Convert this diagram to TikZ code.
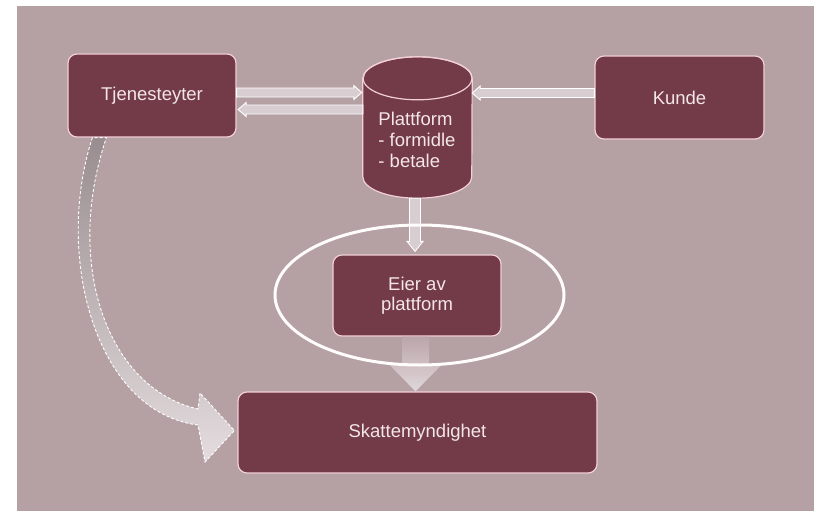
\documentclass[tikz,border=0pt]{standalone}
\usepackage{fontspec}
\setmainfont{Liberation Sans}
\usetikzlibrary{calc}
\definecolor{bg}{HTML}{B5A0A4}
\definecolor{boxc}{HTML}{733A48}
\definecolor{edge}{HTML}{F2D0D8}
\definecolor{txt}{HTML}{F3E6E9}
\definecolor{arrfill}{HTML}{D8CDD0}
\newcommand\barrow[6]{%
  \coordinate (bA) at (#1);
  \coordinate (bB) at (#2);
  \coordinate (bH) at ($(bB)!#5!(bA)$);
  \path[#6] ($(bA)!#3!90:(bB)$) -- ($(bH)!#3!90:(bB)$) -- ($(bH)!#4!90:(bB)$) -- (bB)
    -- ($(bH)!#4!-90:(bB)$) -- ($(bH)!#3!-90:(bB)$) -- ($(bA)!#3!-90:(bB)$) -- cycle;
}
\begin{document}
\begin{tikzpicture}[x=1pt,y=-1pt,
  box/.style={draw=edge, line width=1.2pt, fill=boxc, rounded corners=9pt, text=txt,
    font=\fontsize{18.5}{20}\selectfont, align=center, inner sep=0pt},
  thinarr/.style={fill=arrfill, draw=white, line width=0.9pt, line join=miter},
  bigarr/.style={top color=#1, bottom color=arrfill!80!white, draw=none},
  curvearr/.style={top color=bg!70!black!80!white, middle color=bg!60!white, bottom color=arrfill!70!white,
    draw=white, line width=0.9pt, dash pattern=on 3pt off 2pt},
]
\useasboundingbox (0,0) rectangle (814,511);
\fill[bg] (17,6) rectangle (814,511);

% boxes
\node[box, minimum width=168pt, minimum height=83pt] (tj) at (152,95.5) {Tjenesteyter};
\node[box, minimum width=169pt, minimum height=83pt] (ku) at (679.5,97.5) {Kunde};
\node[box, minimum width=168pt, minimum height=81pt] (ei) at (417,295.5) {Eier av\\plattform};
\node[box, minimum width=359pt, minimum height=81pt] (sk) at (417.5,432.5) {Skattemyndighet};

% cylinder
\node[minimum width=109pt, minimum height=141pt, inner sep=0pt] (plat) at (417.5,127.5) {};
\filldraw[draw=edge, line width=1.2pt, fill=boxc]
  ($(plat.north west)+(0,21.5)$) -- ($(plat.south west)+(0,-21.5)$)
  arc[start angle=180, end angle=0, x radius=54.5, y radius=21.5]
  -- ($(plat.north east)+(0,21.5)$)
  arc[start angle=0, end angle=-180, x radius=54.5, y radius=21.5] -- cycle;
\draw[edge, line width=1.2pt] ($(plat.north)+(0,21.5)$) ellipse[x radius=54.5, y radius=21.5];
\node[text=txt, font=\fontsize{18.5}{21}\selectfont, align=left, inner sep=0pt, anchor=center]
  (plattxt) at ($(plat.center)+(-0.5,12)$) {Plattform\\- formidle\\- betale};

% thin arrows
\coordinate (a1s) at ($(tj.east)+(0,-3)$);
\coordinate (a1e) at ($(a1s -| plat.west)+(-1,0)$);
\barrow{a1s}{a1e}{4.5pt}{7pt}{8pt}{thinarr}
\coordinate (a2s) at ($(tj.east)+(0,14)$);
\coordinate (a2e) at ($(a2s -| plat.west)$);
\barrow{a2e}{$(a2s)+(1.5,0)$}{4.5pt}{7pt}{8pt}{thinarr}
\coordinate (a3s) at ($(ku.west)+(0,-4.5)$);
\coordinate (a3e) at ($(a3s -| plat.east)$);
\barrow{a3s}{a3e}{4.5pt}{7pt}{8pt}{thinarr}
\coordinate (a4s) at ($(plat.south)+(-2.5,0)$);
\coordinate (a4e) at ($(a4s |- ei.north)+(0,-3)$);
\barrow{a4s}{a4e}{5.5pt}{8pt}{10pt}{thinarr}

% big arrow eier -> skatt
\coordinate (b1s) at ($(ei.south)+(-1.5,0)$);
\coordinate (b1e) at ($(b1s |- sk.north)$);
\barrow{b1s}{b1e}{13.5pt}{26.5pt}{27pt}{bigarr=arrfill!75!boxc!60!bg}

% curved arrow tjenesteyter -> skatt
\coordinate (c1) at ($(tj.south west)+(25,0)$);
\coordinate (c2) at ($(tj.south west)+(39,0)$);
\coordinate (ctip) at ($(sk.west)+(-3,-2)$);
\path[curvearr] (c1) .. controls (54,255) and (95,412) .. (198,425) -- (205,462) -- (ctip)
  -- (200,393) -- (198,409) .. controls (106,388) and (64,262) .. (c2) -- cycle;

% ring
\draw[white!95!pink, line width=3pt] ($(ei.center)+(2.5,-0.5)$) ellipse[x radius=144.5, y radius=70];
\end{tikzpicture}
\end{document}
